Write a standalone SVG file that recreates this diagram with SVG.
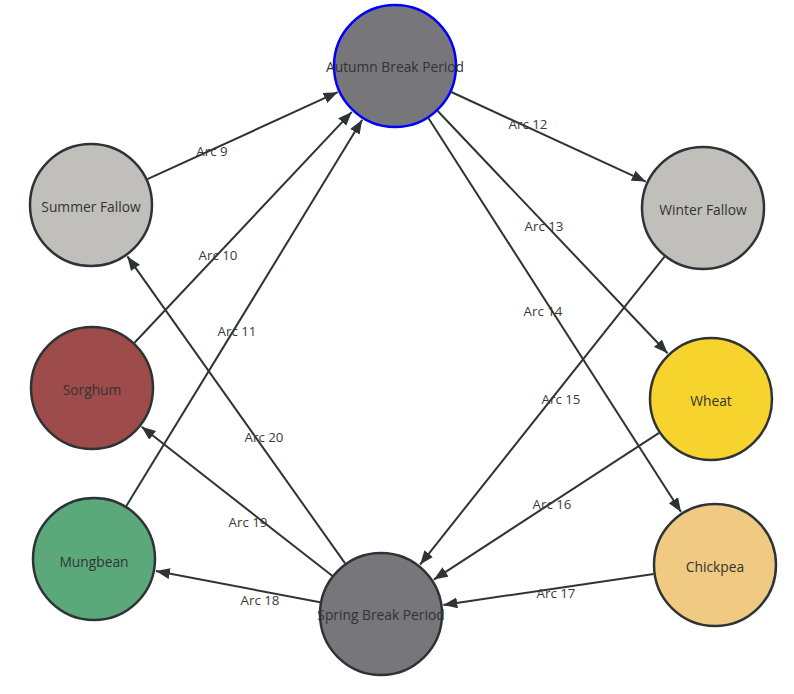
<svg xmlns="http://www.w3.org/2000/svg" width="794" height="694" viewBox="0 0 794 694">
<style>
.edge{stroke:#2e3436;stroke-width:2;fill:none;marker-end:url(#arr)}
.elbl{font-family:"Open Sans","DejaVu Sans",sans-serif;font-size:13.3px;fill:#3a3a3a;text-anchor:middle;dominant-baseline:central}
.node circle{stroke:#2e3436;stroke-width:2.5}
.node text{font-family:"Open Sans","DejaVu Sans",sans-serif;font-size:13.8px;fill:#333;text-anchor:middle;dominant-baseline:central}
</style>
<defs>
<marker id="arr" markerUnits="userSpaceOnUse" markerWidth="15" markerHeight="12" refX="14" refY="5.5" orient="auto">
<path d="M0,0 L14,5.5 L0,11 z" fill="#2e3436"/>
</marker>
</defs>
<rect width="794" height="694" fill="#fff"/>
<g id="connectors">
<line class="edge" x1="147.4" y1="179.2" x2="337.7" y2="92.2"/>
<line class="edge" x1="134.5" y1="342.8" x2="351.8" y2="111.9"/>
<line class="edge" x1="126.3" y1="506.1" x2="362.2" y2="119.8"/>
<line class="edge" x1="451.3" y1="92" x2="645.8" y2="181.6"/>
<line class="edge" x1="437.7" y1="111" x2="667.6" y2="353.3"/>
<line class="edge" x1="428.5" y1="118.2" x2="681" y2="512"/>
<line class="edge" x1="664.5" y1="256.6" x2="420.1" y2="564.6"/>
<line class="edge" x1="659.1" y1="432.8" x2="433.8" y2="579.6"/>
<line class="edge" x1="653.7" y1="574" x2="443.3" y2="604.9"/>
<line class="edge" x1="320.1" y1="602.3" x2="155.9" y2="570.9"/>
<line class="edge" x1="332.2" y1="575.8" x2="141.6" y2="426.8"/>
<line class="edge" x1="345.1" y1="563.4" x2="127.4" y2="256.4"/>
<text class="elbl" x="212" y="151">Arc 9</text>
<text class="elbl" x="218" y="255">Arc 10</text>
<text class="elbl" x="237" y="331">Arc 11</text>
<text class="elbl" x="528" y="124">Arc 12</text>
<text class="elbl" x="544" y="226">Arc 13</text>
<text class="elbl" x="543" y="311">Arc 14</text>
<text class="elbl" x="561" y="399">Arc 15</text>
<text class="elbl" x="552" y="504">Arc 16</text>
<text class="elbl" x="556" y="593">Arc 17</text>
<text class="elbl" x="260" y="600">Arc 18</text>
<text class="elbl" x="248" y="522">Arc 19</text>
<text class="elbl" x="264" y="437">Arc 20</text>
</g>
<g id="autumn" class="node"><circle cx="395" cy="66" r="61" fill="#77767b" style="stroke:#0000ff"/><text x="395" y="66">Autumn Break Period</text></g>
<g id="summer" class="node"><circle cx="91" cy="205" r="61" fill="#c0bfbc"/><text x="91" y="206">Summer Fallow</text></g>
<g id="winter" class="node"><circle cx="703" cy="208" r="61" fill="#c0bfbc"/><text x="703" y="209">Winter Fallow</text></g>
<g id="sorghum" class="node"><circle cx="92" cy="388" r="61" fill="#9e4b4b"/><text x="92" y="389">Sorghum</text></g>
<g id="wheat" class="node"><circle cx="711" cy="399" r="61" fill="#f6d32d"/><text x="711" y="400">Wheat</text></g>
<g id="mungbean" class="node"><circle cx="94" cy="559" r="61" fill="#5ba97b"/><text x="94" y="561">Mungbean</text></g>
<g id="chickpea" class="node"><circle cx="715" cy="565" r="61" fill="#f0c982"/><text x="715" y="566">Chickpea</text></g>
<g id="spring" class="node"><circle cx="381" cy="614" r="61" fill="#77767b"/><text x="381" y="614">Spring Break Period</text></g>
</svg>
